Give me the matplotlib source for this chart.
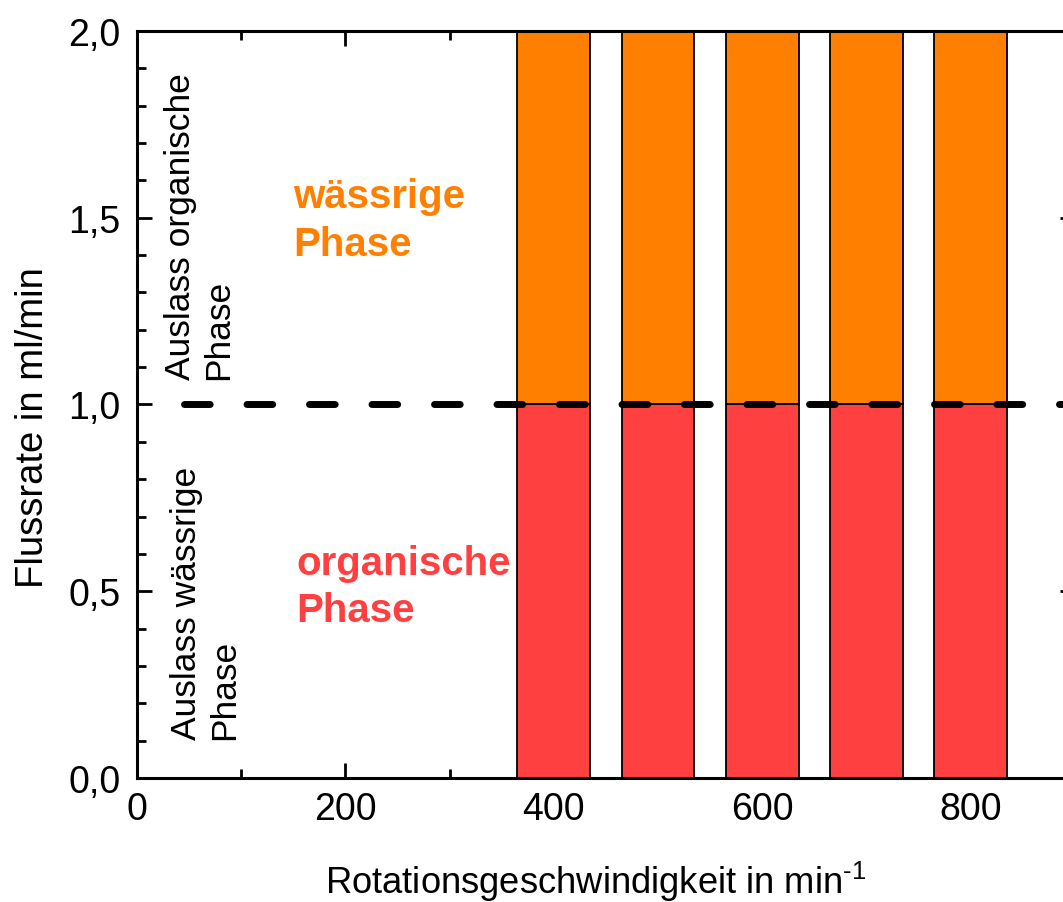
import matplotlib
matplotlib.use('Agg')
import matplotlib.pyplot as plt
from matplotlib.ticker import MultipleLocator, FuncFormatter

# data
speeds = [400, 500, 600, 700, 800]          # min^-1
organic_flow = [1.0, 1.0, 1.0, 1.0, 1.0]    # ml/min, lower (red) part
aqueous_flow = [1.0, 1.0, 1.0, 1.0, 1.0]    # ml/min, upper (orange) part
total_flow = 1.0                            # dashed reference line
line_start = 45

plt.rcParams['font.family'] = ['Liberation Sans', 'DejaVu Sans']
plt.rcParams['mathtext.fontset'] = 'custom'
plt.rcParams['mathtext.rm'] = 'Liberation Sans'

ORANGE = '#ff8000'
RED = '#ff4040'


def comma(v, pos):
    return ('%.1f' % v).replace('.', ',')


def main():
    fig = plt.figure(figsize=(10.63, 9.03), dpi=100)
    ax = fig.add_axes([0.1289, 0.1373, 0.8822, 0.8273])

    ax.bar(speeds, organic_flow, width=70, color=RED, edgecolor='black', linewidth=1.3, zorder=2)
    ax.bar(speeds, aqueous_flow, width=70, bottom=organic_flow, color=ORANGE,
           edgecolor='black', linewidth=1.3, zorder=2)

    ax.hlines(total_flow, line_start, 900, colors='black', linewidth=5,
              linestyles=(0, (3.7, 5.3)), capstyle='round', zorder=3)

    ax.set_xlim(0, 900)
    ax.set_ylim(0, 2.0)
    ax.xaxis.set_major_locator(MultipleLocator(200))
    ax.xaxis.set_minor_locator(MultipleLocator(100))
    ax.yaxis.set_major_locator(MultipleLocator(0.5))
    ax.yaxis.set_minor_locator(MultipleLocator(0.1))
    ax.yaxis.set_major_formatter(FuncFormatter(comma))

    ax.tick_params(which='both', direction='in', top=True, right=True, width=2, labelsize=27)
    ax.tick_params(which='major', length=11)
    ax.tick_params(which='minor', length=6.5)
    ax.tick_params(axis='y', which='major', pad=12)
    ax.tick_params(axis='x', which='major', pad=9)
    for s in ax.spines.values():
        s.set_linewidth(2.2)
        s.set_zorder(4)

    ax.set_xlabel('Rotationsgeschwindigkeit in min$^{\\text{-1}}$', fontsize=26.2, labelpad=23.5)
    ax.set_ylabel('Flussrate in ml/min', fontsize=27.5, labelpad=12)
    ax.xaxis.label.set_x(0.489)
    ax.yaxis.label.set_y(0.471)

    ax.text(150, 1.494, 'wässrige\nPhase', color=ORANGE, fontsize=29, fontweight='bold',
            ha='left', va='center', linespacing=1.35)
    ax.text(153, 0.514, 'organische\nPhase', color=RED, fontsize=29, fontweight='bold',
            ha='left', va='center', linespacing=1.3)

    ax.text(60, 1.068, 'Auslass organische\nPhase', fontsize=25.5, rotation=90,
            ha='center', va='bottom', multialignment='left', linespacing=1.2)
    ax.text(66, 0.104, 'Auslass wässrige\nPhase', fontsize=25.5, rotation=90,
            ha='center', va='bottom', multialignment='left', linespacing=1.2)

    fig.savefig('out.png', dpi=100)


if __name__ == '__main__':
    main()
